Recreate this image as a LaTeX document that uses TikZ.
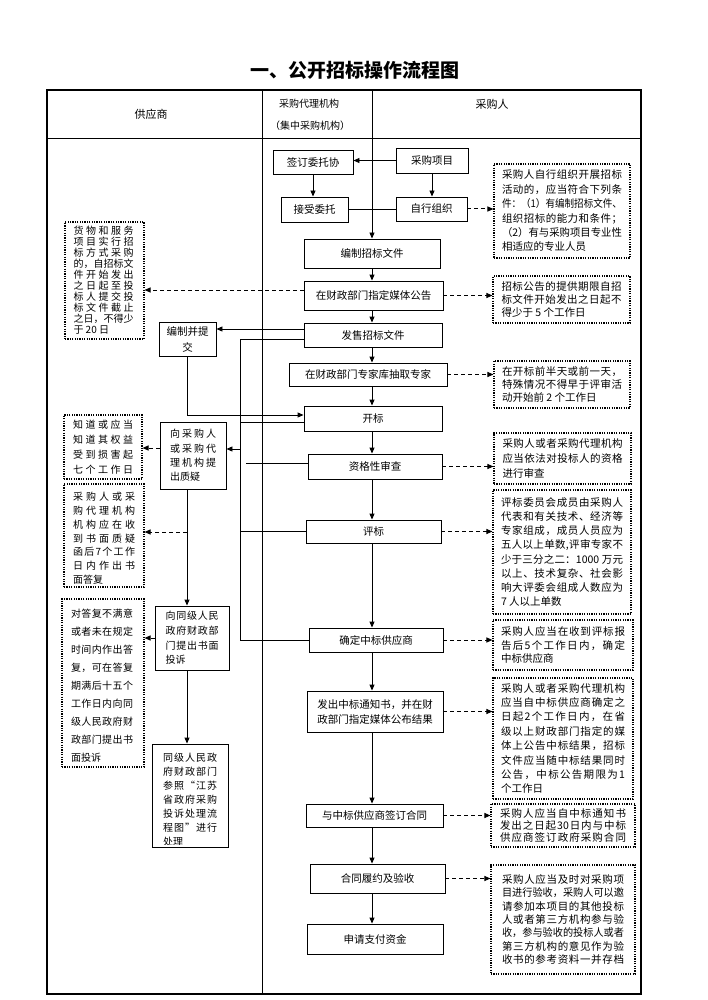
\documentclass[tikz,border=0pt]{standalone}
\usepackage{graphicx}
\usepackage{fontspec}
\setmainfont{Noto Sans CJK SC}
\usetikzlibrary{arrows.meta}
\makeatletter
\def\sp@end{\relax}
\def\sp@first#1{#1\sp@next}
\def\sp@next#1{\def\sp@tmp{#1}\ifx\sp@tmp\sp@end\else\hfil#1\expandafter\sp@next\fi}
\newcommand\jl[2]{\sbox0{#2}\ifdim\wd0>#1\relax\resizebox{#1}{\height}{\hbox{#2}}\else\hbox to #1{\sp@first#2\relax}\fi}
\makeatother
\begin{document}
\begin{tikzpicture}[x=1pt,y=-1pt,
  box/.style={draw, line width=0.9pt, inner sep=0pt, align=center, font=\fontsize{10.5}{15}\selectfont},
  dbox/.style={draw, dash pattern=on 1.2pt off 1.2pt, line width=1.1pt, inner sep=0pt},
  rtxt/.style={inner sep=0pt, align=left, font=\fontsize{10.5}{14}\selectfont},
  ltxt/.style={inner sep=0pt, align=left, font=\fontsize{10}{14}\selectfont},
  arr/.style={-{Triangle[length=6pt,width=5pt]}, line width=0.9pt},
  darr/.style={-{Triangle[length=6pt,width=5pt]}, line width=1pt, dash pattern=on 4pt off 3pt},
  ln/.style={line width=0.9pt}]
\useasboundingbox (0,0) rectangle (707,1000);
\fill[white] (0,0) rectangle (707,1000);

% title and table
\node[font=\fontsize{19}{22}\selectfont\bfseries] (title) at (355,70) {一、公开招标操作流程图};
\draw[line width=1.2pt] (47,90) rectangle (641,994);
\draw[ln] (47,138) -- (641,138);
\draw[ln] (262,90) -- (262,994);
\draw[ln] (372,90) -- (372,138);
\coordinate (hd) at (372,138);
\node[font=\fontsize{11}{13}\selectfont] (h1) at (151,114) {供应商};
\node[font=\fontsize{10}{13}\selectfont] (h2) at (309,104) {采购代理机构};
\node[font=\fontsize{10}{13}\selectfont] (h3) at (310,126) {（集中采购机构）};
\node[font=\fontsize{11}{13}\selectfont] (h4) at (492,104) {采购人};

% main boxes
\node[box, minimum width=80pt, minimum height=24pt] (qd) at (313,162) {签订委托协};
\node[box, minimum width=67pt, minimum height=25pt] (js) at (314.5,209.5) {接受委托};
\node[box, minimum width=72pt, minimum height=25pt] (cg) at (432,160.5) {采购项目};
\node[box, minimum width=71pt, minimum height=24pt] (zx) at (431.5,209) {自行组织};
\node[box, minimum width=136pt, minimum height=29pt] (bz) at (372,253.5) {编制招标文件};
\node[box, minimum width=139pt, minimum height=29pt] (gg) at (373.5,295.5) {在财政部门指定媒体公告};
\node[box, minimum width=138pt, minimum height=24pt] (fs) at (373,335) {发售招标文件};
\node[box, minimum width=158pt, minimum height=23pt] (zj) at (368,374.5) {在财政部门专家库抽取专家};
\node[box, minimum width=138pt, minimum height=25pt] (kb) at (373,418.5) {开标};
\node[box, minimum width=134pt, minimum height=25pt] (zg) at (375,466.5) {资格性审查};
\node[box, minimum width=135pt, minimum height=23pt] (pb) at (373.5,531.5) {评标};
\node[box, minimum width=134pt, minimum height=24pt] (qz) at (376,640) {确定中标供应商};
\node[box, minimum width=136pt, minimum height=41pt] (fc) at (375,711.5) {发出中标通知书，并在财\\政部门指定媒体公布结果};
\node[box, minimum width=137pt, minimum height=23pt] (qy) at (374.5,815.5) {与中标供应商签订合同};
\node[box, minimum width=135pt, minimum height=29pt] (ly) at (377.5,878.5) {合同履约及验收};
\node[box, minimum width=136pt, minimum height=30pt] (zf) at (375,939) {申请支付资金};

% supplier column boxes
\node[box, minimum width=57pt, minimum height=34pt, font=\fontsize{10.5}{16}\selectfont] (bt) at (187.5,339) {编制并提\\交};
\node[box, minimum width=66pt, minimum height=67pt] (zy) at (193,455.5) {};
\node[ltxt, font=\fontsize{10}{14.4}\selectfont] (zyt) at (zy.center) {\jl{46pt}{向采购人}\\\jl{46pt}{或采购代}\\\jl{46pt}{理机构提}\\出质疑};
\node[box, minimum width=74pt, minimum height=64pt] (ts) at (192,638) {};
\node[ltxt, font=\fontsize{10}{14.7}\selectfont] (tst) at (ts.center) {\jl{53pt}{向同级人民}\\\jl{53pt}{政府财政部}\\\jl{53pt}{门提出书面}\\投诉};
\node[box, minimum width=76pt, minimum height=103pt] (cl) at (190,795.5) {};
\begin{scope}
\clip (152,744) rectangle (228,844);
\node[ltxt, font=\fontsize{10}{14}\selectfont, anchor=north] (clt) at (190,753) {\jl{54pt}{同级人民政}\\\jl{54pt}{府财政部门}\\\jl{54pt}{参照“江苏}\\\jl{54pt}{省政府采购}\\\jl{54pt}{投诉处理流}\\\jl{54pt}{程图”进行}\\处理};
\end{scope}

% left dotted boxes
\node[dbox, minimum width=79pt, minimum height=117pt] (l1) at (104.5,280.5) {};
\node[ltxt, font=\fontsize{10}{11}\selectfont] (l1t) at (103.5,280.5) {\jl{60pt}{货物和服务}\\\jl{60pt}{项目实行招}\\\jl{60pt}{标方式采购}\\\jl{60pt}{的，自招标文}\\\jl{60pt}{件开始发出}\\\jl{60pt}{之日起至投}\\\jl{60pt}{标人提交投}\\\jl{60pt}{标文件截止}\\\jl{60pt}{之日，不得少}\\于 20 日};
\node[dbox, minimum width=78pt, minimum height=64pt] (l2) at (103,447) {};
\node[ltxt, font=\fontsize{10}{15}\selectfont] (l2t) at (103,447) {\jl{60pt}{知道或应当}\\\jl{60pt}{知道其权益}\\\jl{60pt}{受到损害起}\\\jl{60pt}{七个工作日}};
\node[dbox, minimum width=80pt, minimum height=103pt] (l3) at (104,535.5) {};
\begin{scope}
\clip (64,484) rectangle (144,583);
\node[ltxt, font=\fontsize{10}{13.8}\selectfont, anchor=north] (l3t) at (104,492) {\jl{62pt}{采购人或采}\\\jl{62pt}{购代理机构}\\\jl{62pt}{机构应在收}\\\jl{62pt}{到书面质疑}\\\jl{62pt}{函后 7 个工作}\\\jl{62pt}{日内作出书}\\面答复};
\end{scope}
\node[dbox, minimum width=82pt, minimum height=168pt] (l4) at (103,683) {};
\begin{scope}
\clip (62,599) rectangle (144,761);
\node[ltxt, font=\fontsize{10}{18}\selectfont, anchor=north] (l4t) at (102,609) {\jl{62pt}{对答复不满意}\\\jl{62pt}{或者未在规定}\\\jl{62pt}{时间内作出答}\\\jl{62pt}{复，可在答复}\\\jl{62pt}{期满后十五个}\\\jl{62pt}{工作日内向同}\\\jl{62pt}{级人民政府财}\\\jl{62pt}{政部门提出书}\\面投诉};
\end{scope}

% right dotted boxes
\node[dbox, minimum width=136pt, minimum height=94pt] (r1) at (562,211) {};
\node[rtxt, font=\fontsize{10.5}{14.4}\selectfont] (r1t) at (r1.center) {\jl{120pt}{采购人自行组织开展招标}\\\jl{120pt}{活动的，应当符合下列条}\\\jl{120pt}{件：（1）有编制招标文件、}\\\jl{120pt}{组织招标的能力和条件；}\\\jl{120pt}{（2）有与采购项目专业性}\\相适应的专业人员};
\node[dbox, minimum width=137pt, minimum height=47pt] (r2) at (561.5,299.5) {};
\node[rtxt, font=\fontsize{10.5}{13}\selectfont] (r2t) at (r2.center) {\jl{120pt}{招标公告的提供期限自招}\\\jl{120pt}{标文件开始发出之日起不}\\得少于 5 个工作日};
\node[dbox, minimum width=136pt, minimum height=47pt] (r3) at (562,384.5) {};
\node[rtxt, font=\fontsize{10.5}{12.6}\selectfont] (r3t) at (r3.center) {\jl{120pt}{在开标前半天或前一天，}\\\jl{120pt}{特殊情况不得早于评审活}\\动开始前 2 个工作日};
\node[dbox, minimum width=137pt, minimum height=51pt] (r4) at (562.5,458.5) {};
\node[rtxt, font=\fontsize{10.5}{15}\selectfont] (r4t) at (r4.center) {\jl{120pt}{采购人或者采购代理机构}\\\jl{120pt}{应当依法对投标人的资格}\\进行审查};
\node[dbox, minimum width=138pt, minimum height=124pt] (r5) at (562,552) {};
\node[rtxt, font=\fontsize{10.5}{14.1}\selectfont] (r5t) at (r5.center) {\jl{122pt}{评标委员会成员由采购人}\\\jl{122pt}{代表和有关技术、经济等}\\\jl{122pt}{专家组成，成员人员应为}\\\jl{122pt}{五人以上单数,评审专家不}\\\jl{122pt}{少于三分之二：{1000 }万元}\\\jl{122pt}{以上、技术复杂、社会影}\\\jl{122pt}{响大评委会组成人数应为}\\7 人以上单数};
\node[dbox, minimum width=140pt, minimum height=50pt] (r6) at (563,645) {};
\node[rtxt, font=\fontsize{10.5}{13.5}\selectfont] (r6t) at (r6.center) {\jl{124pt}{采购人应当在收到评标报}\\\jl{124pt}{告后 5 个工作日内，确定}\\中标供应商};
\node[dbox, minimum width=140pt, minimum height=121pt] (r7) at (563,738.5) {};
\node[rtxt, font=\fontsize{10.5}{14.4}\selectfont] (r7t) at (r7.center) {\jl{124pt}{采购人或者采购代理机构}\\\jl{124pt}{应当自中标供应商确定之}\\\jl{124pt}{日起 2 个工作日内，在省}\\\jl{124pt}{级以上财政部门指定的媒}\\\jl{124pt}{体上公告中标结果，招标}\\\jl{124pt}{文件应当随中标结果同时}\\\jl{124pt}{公告，中标公告期限为 1}\\个工作日};
\node[dbox, minimum width=144pt, minimum height=43pt] (r8) at (563,825.5) {};
\node[rtxt, font=\fontsize{10.5}{11.8}\selectfont] (r8t) at (r8.center) {\jl{126pt}{采购人应当自中标通知书}\\\jl{126pt}{发出之日起 {30} 日内与中标}\\\jl{126pt}{供应商签订政府采购合同}};
\node[dbox, minimum width=144pt, minimum height=109pt] (r9) at (563,919.5) {};
\node[rtxt, font=\fontsize{10.5}{13.4}\selectfont] (r9t) at (r9.center) {\jl{122pt}{采购人应当及时对采购项}\\\jl{122pt}{目进行验收，采购人可以邀}\\\jl{122pt}{请参加本项目的其他投标}\\\jl{122pt}{人或者第三方机构参与验}\\\jl{122pt}{收，参与验收的投标人或者}\\\jl{122pt}{第三方机构的意见作为验}\\\jl{122pt}{收书的参考资料一并存档}};

% helper coordinates
\coordinate (cx) at (372,0);
\coordinate (vx) at (240,0);
\coordinate (gx) at (246,0);
\coordinate (lx) at (187,0);

% top connectors
\draw[arr] (cg.west) -- (cg.west -| qd.east);
\draw[arr] (qd.south) -- (qd.south |- js.north);
\draw[arr] (cg.south) -- (cg.south |- zx.north);
\draw[ln] (zx.west -| js.east) -- (zx.west);
\draw[arr] (hd) -- (bz.north);
\draw[darr] (zx.east) -- (zx.east -| r1.west);

% main chain
\foreach \a/\b in {bz/gg,gg/fs,fs/zj,zj/kb,kb/zg,zg/pb,pb/qz,qz/fc,fc/qy,qy/ly,ly/zf}
  \draw[arr] (\a.south -| cx) -- (\b.north -| cx);

% right dashed arrows
\foreach \a/\b in {gg/r2,zj/r3,zg/r4,pb/r5,qz/r6,fc/r7,qy/r8,ly/r9}
  \draw[darr] (\a.east) -- (\a.east -| \b.west);

% left side connectors
\draw[darr] ([yshift=5.5pt]gg.west) -- ([yshift=5.5pt]gg.west -| l1.east);
\draw[arr] ([yshift=6pt]fs.west) -- ([yshift=6pt]fs.west -| bt.east);
\draw[ln] ([yshift=-4pt]fs.west) -| (vx |- qz.west) -- (qz.west);
\draw[arr] (bt.south) |- ([yshift=3.5pt]kb.west);
\draw[ln] ([yshift=-3.5pt]kb.west -| vx) -- ([yshift=-3.5pt]kb.west);
\draw[arr] ([yshift=6.5pt]zy.east -| vx) -- ([yshift=6.5pt]zy.east);
\draw[ln] ([yshift=3.5pt]zg.west -| gx) -- ([yshift=3.5pt]zg.west);
\draw[ln] (pb.west -| vx) -- (pb.west);
\draw[arr] (zy.south -| lx) -- (ts.north -| lx);
\draw[arr] (ts.south -| lx) -- (cl.north -| lx);
\draw[darr] ([yshift=7.5pt]zy.west) -- ([yshift=7.5pt]zy.west -| l2.east);
\draw[darr] ([yshift=3.5pt]l3.east -| lx) -- ([yshift=3.5pt]l3.east);
\draw[darr] (ts.west) -- (ts.west -| l4.east);
\end{tikzpicture}
\end{document}
